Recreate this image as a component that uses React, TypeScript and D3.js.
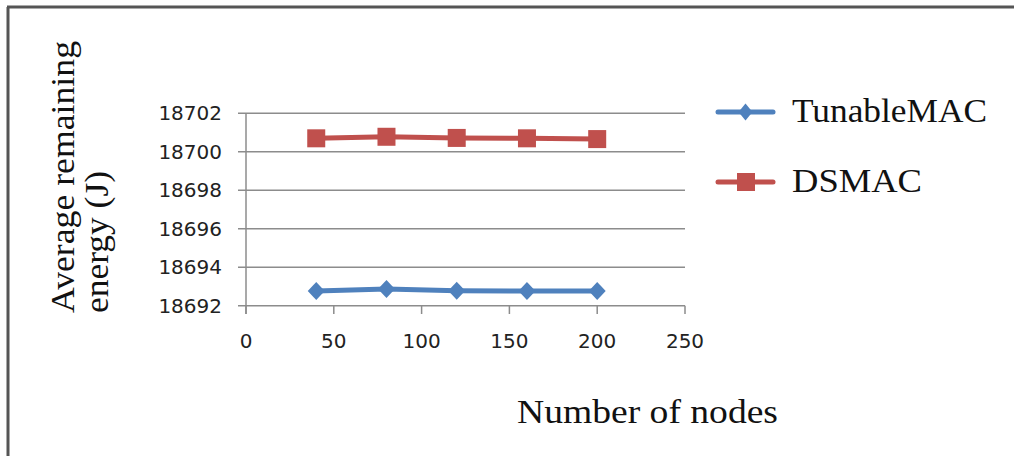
import React from "react";
import * as d3 from "d3";

const nodes = [40, 80, 120, 160, 200];
const tunableMAC = [18692.77, 18692.87, 18692.78, 18692.76, 18692.76];
const dsmac = [18700.7, 18700.78, 18700.72, 18700.7, 18700.66];
const yTicks = [18692, 18694, 18696, 18698, 18700, 18702];
const xTicks = [0, 50, 100, 150, 200, 250];
const seriesNames = ["TunableMAC", "DSMAC"];

const BLUE = "#4F81BD";
const RED = "#C0504D";

export default function App() {
  const W = 1014, H = 456;
  const x = d3.scaleLinear().domain([0, 250]).range([246, 685]);
  const y = d3.scaleLinear().domain([18692, 18702]).range([305.7, 113.3]);
  const line = d3
    .line<number>()
    .x((_, i) => x(nodes[i]))
    .y((d) => y(d));
  const diamond = (cx: number, cy: number, w: number, h: number) =>
    `M${cx},${cy - h / 2}L${cx + w / 2},${cy}L${cx},${cy + h / 2}L${cx - w / 2},${cy}Z`;
  const serif = "'Liberation Serif', 'Times New Roman', serif";
  const sans = "'DejaVu Sans', sans-serif";

  return (
    <svg
      width={W}
      height={H}
      style={{ position: "absolute", left: 0, top: 0, background: "#fff" }}
    >
      {/* frame */}
      <line x1={7} y1={7} x2={W} y2={7} stroke="#555" strokeWidth={3} />
      <line x1={8} y1={7} x2={8} y2={H} stroke="#555" strokeWidth={3} />

      {/* gridlines and y ticks */}
      {yTicks.map((t) => (
        <g key={t}>
          <line x1={238} x2={685} y1={y(t)} y2={y(t)} stroke="#8c8c8c" strokeWidth={1.5} />
          <text
            x={222}
            y={y(t)}
            textAnchor="end"
            dominantBaseline="central"
            fontFamily={sans}
            fontSize={20}
            fill="#222"
          >
            {t}
          </text>
        </g>
      ))}
      {/* y axis */}
      <line x1={x(0)} x2={x(0)} y1={y(18702)} y2={314} stroke="#8c8c8c" strokeWidth={1.5} />
      {/* x ticks */}
      {xTicks.map((t) => (
        <g key={t}>
          <line x1={x(t)} x2={x(t)} y1={y(18692)} y2={314} stroke="#8c8c8c" strokeWidth={1.5} />
          <text
            x={x(t)}
            y={341}
            textAnchor="middle"
            dominantBaseline="central"
            fontFamily={sans}
            fontSize={20}
            fill="#222"
          >
            {t}
          </text>
        </g>
      ))}

      {/* series */}
      <path d={line(tunableMAC) || ""} fill="none" stroke={BLUE} strokeWidth={5} />
      {tunableMAC.map((v, i) => (
        <path key={i} d={diamond(x(nodes[i]), y(v), 17, 18)} fill={BLUE} />
      ))}
      <path d={line(dsmac) || ""} fill="none" stroke={RED} strokeWidth={5} />
      {dsmac.map((v, i) => (
        <rect key={i} x={x(nodes[i]) - 9} y={y(v) - 9} width={18} height={18} fill={RED} />
      ))}

      {/* legend */}
      <line x1={718} x2={773} y1={112} y2={112} stroke={BLUE} strokeWidth={5} strokeLinecap="round" />
      <path d={diamond(745.5, 112, 14, 17)} fill={BLUE} />
      <text x={792} y={122} fontFamily={serif} fontSize={34} fill="#111" textLength={195} lengthAdjust="spacingAndGlyphs">
        {seriesNames[0]}
      </text>
      <line x1={718} x2={773} y1={182} y2={182} stroke={RED} strokeWidth={5} strokeLinecap="round" />
      <rect x={737} y={173} width={18} height={18} fill={RED} />
      <text x={792} y={192} fontFamily={serif} fontSize={34} fill="#111" textLength={130} lengthAdjust="spacingAndGlyphs">
        {seriesNames[1]}
      </text>

      {/* axis titles */}
      <text
        x={517}
        y={423}
        fontFamily={serif}
        fontSize={34}
        fill="#111"
        textLength={261}
        lengthAdjust="spacingAndGlyphs"
      >
        Number of nodes
      </text>
      <g transform="translate(74,313) rotate(-90)">
        <text x={0} y={0} fontFamily={serif} fontSize={34} fill="#111" textLength={272} lengthAdjust="spacingAndGlyphs">
          Average remaining
        </text>
        <text x={0} y={34} fontFamily={serif} fontSize={34} fill="#111" textLength={142} lengthAdjust="spacingAndGlyphs">
          energy (J)
        </text>
      </g>
    </svg>
  );
}
